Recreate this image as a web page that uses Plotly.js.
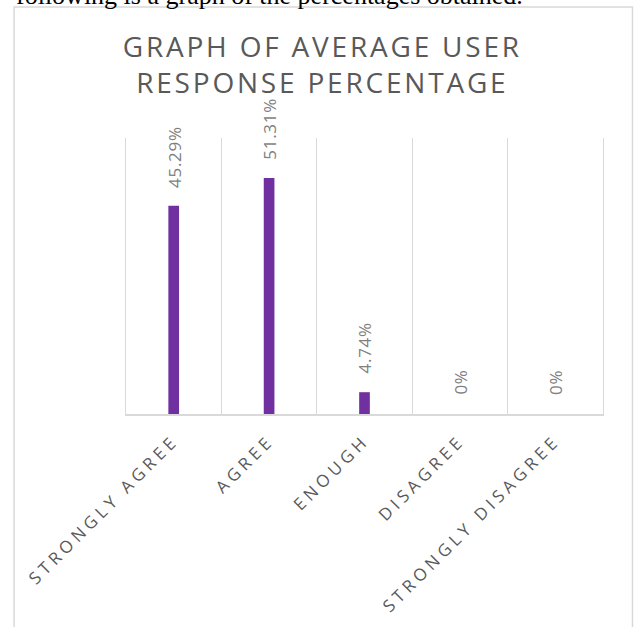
<!DOCTYPE html>
<html>
<head>
<meta charset="utf-8">
<script src="https://cdn.plot.ly/plotly-3.0.1.min.js"></script>
<style>
  html, body { margin: 0; padding: 0; background: #ffffff; }
  #chart { width: 637px; height: 627px; }
  .gtitle { letter-spacing: 2.8px; }
  .xtick text { letter-spacing: 4.3px; }
  .annotation-text.vlabel { letter-spacing: 0.7px; }
</style>
</head>
<body>
<div id="chart"></div>
<script>
// ---- data ----
const categories = ["STRONGLY AGREE", "AGREE", "ENOUGH", "DISAGREE", "STRONGLY DISAGREE"];
const percentages = [45.29, 51.31, 4.74, 0, 0];
const valueLabels = ["45.29%", "51.31%", "4.74%", "0%", "0%"];
const chartTitle = "GRAPH OF AVERAGE USER<br>RESPONSE PERCENTAGE";
const pageText = "following is a graph of the percentages obtained.";
const yRange = [0, 60];

// ---- styles ----
const barColor = "#7030a0";
const gridColor = "#d9d9d9";
const titleColor = "#595959";
const labelColor = "#7f7f7f";
const fontFamily = "'Open Sans', 'Noto Sans', sans-serif";

const trace = {
  type: "bar",
  x: categories,
  y: percentages,
  width: 0.112,
  marker: { color: barColor },
  hoverinfo: "skip"
};

const annotations = categories.map((c, i) => ({
  x: c,
  y: percentages[i],
  xref: "x",
  yref: "y",
  text: valueLabels[i],
  textangle: -90,
  showarrow: false,
  xanchor: "center",
  yanchor: "bottom",
  yshift: 18,
  font: { family: fontFamily, size: 17, color: labelColor }
}));

annotations.push({
  xref: "paper", yref: "paper",
  x: -0.2346, y: 1.4583,
  xanchor: "left", yanchor: "bottom",
  text: pageText,
  showarrow: false,
  font: { family: "'Liberation Serif', 'Times New Roman', serif", size: 26, color: "#000000" }
});

const layout = {
  width: 637,
  height: 627,
  margin: { l: 126, r: 34, t: 138, b: 213 },
  paper_bgcolor: "#ffffff",
  plot_bgcolor: "#ffffff",
  showlegend: false,
  title: {
    text: chartTitle,
    font: { family: fontFamily, size: 28, color: titleColor },
    x: 0.506,
    xref: "container",
    xanchor: "center",
    y: 0.9095,
    yref: "container",
    yanchor: "top"
  },
  xaxis: {
    type: "category",
    tickson: "boundaries",
    showgrid: true,
    gridcolor: gridColor,
    gridwidth: 1.3,
    showline: true,
    linecolor: gridColor,
    linewidth: 2,
    ticks: "",
    tickangle: -45,
    ticklabelstandoff: 8,
    tickfont: { family: fontFamily, size: 17, color: titleColor },
    fixedrange: true
  },
  yaxis: {
    range: yRange,
    showgrid: false,
    zeroline: false,
    showticklabels: false,
    showline: true,
    mirror: true,
    linecolor: gridColor,
    linewidth: 1.3,
    ticks: "",
    fixedrange: true
  },
  shapes: [{
    type: "rect",
    xref: "paper", yref: "paper",
    x0: -0.2346, x1: 1.0618,
    y0: -1.2, y1: 1.475,
    line: { color: gridColor, width: 1.5 },
    fillcolor: "rgba(0,0,0,0)",
    layer: "below"
  }],
  annotations: annotations
};

Plotly.newPlot("chart", [trace], layout, { displayModeBar: false, staticPlot: true }).then(() => {
  document.querySelectorAll(".annotation-text").forEach((el, i) => {
    if (i < categories.length) el.classList.add("vlabel");
  });
});
</script>
</body>
</html>
